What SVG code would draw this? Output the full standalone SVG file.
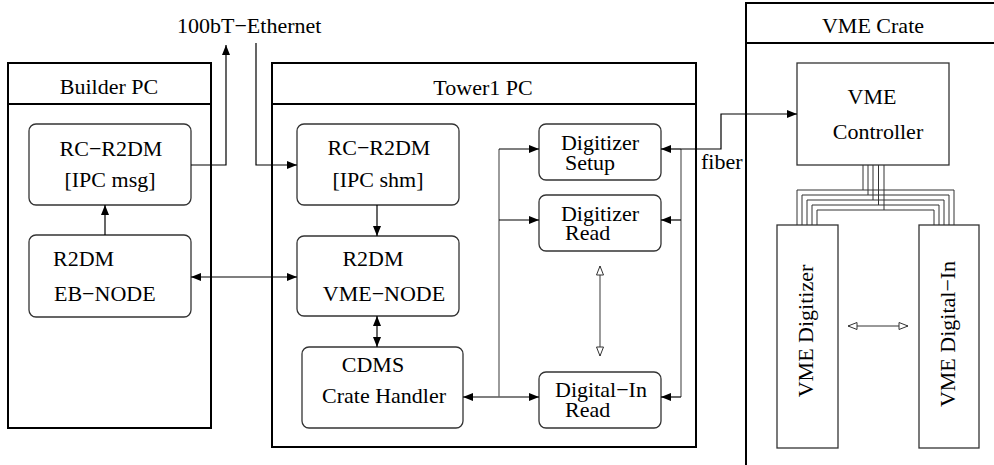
<svg xmlns="http://www.w3.org/2000/svg" width="994" height="465" viewBox="0 0 994 465">
  <style>
    text { font-family: "Liberation Serif", "Times New Roman", serif; font-size: 22px; fill: #000; }
    .mid { text-anchor: middle; }
    .frame { fill: none; stroke: #000; stroke-width: 2; }
    .task { fill: #fff; stroke: #333; stroke-width: 1.3; }
    .card { fill: #fff; stroke: #333; stroke-width: 1.3; }
    .wire { fill: none; stroke: #000; stroke-width: 1.2; }
    .bus { fill: none; stroke: #666; stroke-width: 1.3; }
    .vme { fill: none; stroke: #333; stroke-width: 1; }
  </style>
  <defs>
    <marker id="arr" markerUnits="userSpaceOnUse" markerWidth="10" markerHeight="8" refX="10" refY="4" orient="auto-start-reverse">
      <path d="M0,0 L10,4 L0,8 Z" fill="#000"/>
    </marker>
    <marker id="open" markerUnits="userSpaceOnUse" markerWidth="11" markerHeight="9" refX="10" refY="4.5" orient="auto-start-reverse">
      <path d="M1,1 L10,4.5 L1,8 Z" fill="#fff" stroke="#333" stroke-width="1"/>
    </marker>
  </defs>

  <!-- Builder PC -->
  <g id="builder-pc">
    <rect class="frame" x="8" y="63" width="203" height="365"/>
    <line class="frame" x1="8" y1="104" x2="211" y2="104"/>
    <text class="mid" x="109" y="94">Builder PC</text>
  </g>
  <g id="builder-rc">
    <rect class="task" x="29" y="124" width="162" height="81" rx="7"/>
    <text class="mid" x="111" y="156">RC−R2DM</text>
    <text class="mid" x="110" y="187">[IPC msg]</text>
  </g>
  <g id="builder-eb">
    <rect class="task" x="29" y="235" width="162" height="82" rx="7"/>
    <text x="53" y="266">R2DM</text>
    <text x="54" y="301">EB−NODE</text>
  </g>

  <!-- Tower1 PC -->
  <g id="tower-pc">
    <rect class="frame" x="272" y="63" width="424" height="384"/>
    <line class="frame" x1="272" y1="104" x2="696" y2="104"/>
    <text class="mid" x="483" y="95">Tower1 PC</text>
  </g>
  <g id="tower-rc">
    <rect class="task" x="297" y="124" width="162" height="81" rx="7"/>
    <text class="mid" x="379" y="155">RC−R2DM</text>
    <text class="mid" x="378" y="187">[IPC shm]</text>
  </g>
  <g id="tower-vme-node">
    <rect class="task" x="297" y="236" width="162" height="80" rx="7"/>
    <text class="mid" x="373" y="266">R2DM</text>
    <text class="mid" x="384" y="301">VME−NODE</text>
  </g>
  <g id="crate-handler">
    <rect class="task" x="302" y="347" width="161" height="81" rx="7"/>
    <text class="mid" x="373" y="372">CDMS</text>
    <text class="mid" x="384" y="403">Crate Handler</text>
  </g>
  <g id="digitizer-setup">
    <rect class="task" x="539" y="124" width="122" height="56" rx="7"/>
    <text class="mid" x="600" y="150">Digitizer</text>
    <text x="565" y="170">Setup</text>
  </g>
  <g id="digitizer-read">
    <rect class="task" x="539" y="195" width="122" height="56" rx="7"/>
    <text class="mid" x="600" y="221">Digitizer</text>
    <text x="565" y="240">Read</text>
  </g>
  <g id="digital-in-read">
    <rect class="task" x="539" y="372" width="122" height="56" rx="7"/>
    <text class="mid" x="601" y="397">Digital−In</text>
    <text x="565" y="417">Read</text>
  </g>

  <!-- VME Crate -->
  <g id="vme-crate">
    <path class="frame" d="M746,470 L746,3 L1000,3"/>
    <line class="frame" x1="746" y1="43" x2="1000" y2="43"/>
    <text class="mid" x="873" y="33">VME Crate</text>
  </g>
  <g id="vme-controller">
    <rect class="card" x="797" y="63" width="152" height="102"/>
    <text class="mid" x="872" y="104">VME</text>
    <text class="mid" x="878" y="139">Controller</text>
  </g>
  <g id="vme-digitizer">
    <rect class="card" x="777" y="225" width="61" height="223"/>
    <text class="mid" transform="translate(812.5,331) rotate(-90)">VME Digitizer</text>
  </g>
  <g id="vme-digital-in">
    <rect class="card" x="919" y="225" width="60" height="223"/>
    <text class="mid" transform="translate(955,334) rotate(-90)">VME Digital−In</text>
  </g>

  <!-- Connectors -->
  <g id="connectors">
    <!-- Ethernet -->
    <text x="177" y="33">100bT−Ethernet</text>
    <polyline class="wire" points="191,165 226,165 226,45" marker-end="url(#arr)"/>
    <polyline class="wire" points="256,43 256,165 297,165" marker-end="url(#arr)"/>

    <!-- Builder PC internal -->
    <line class="wire" x1="105" y1="235" x2="105" y2="205" marker-end="url(#arr)"/>
    <line class="wire" x1="191" y1="277" x2="297" y2="277" marker-start="url(#arr)" marker-end="url(#arr)"/>

    <!-- Tower1 PC internal -->
    <line class="wire" x1="377" y1="205" x2="377" y2="236" marker-end="url(#arr)"/>
    <line class="wire" x1="377" y1="316" x2="377" y2="347" marker-start="url(#arr)" marker-end="url(#arr)"/>
    <line class="wire" x1="463" y1="397" x2="539" y2="397" marker-start="url(#arr)" marker-end="url(#arr)"/>

    <!-- left distribution bus -->
    <line class="bus" x1="499" y1="149" x2="499" y2="397"/>
    <line class="wire" x1="499" y1="149" x2="539" y2="149" marker-end="url(#arr)"/>
    <line class="wire" x1="499" y1="220" x2="539" y2="220" marker-end="url(#arr)"/>

    <!-- right distribution bus -->
    <line class="bus" x1="681" y1="149" x2="681" y2="397"/>
    <line class="wire" x1="681" y1="149" x2="661" y2="149" marker-end="url(#arr)"/>
    <line class="wire" x1="681" y1="220" x2="661" y2="220" marker-end="url(#arr)"/>
    <line class="wire" x1="681" y1="397" x2="661" y2="397" marker-end="url(#arr)"/>

    <!-- digitizer / digital-in link -->
    <line class="bus" x1="600" y1="266" x2="600" y2="356" marker-start="url(#open)" marker-end="url(#open)"/>

    <!-- fiber -->
    <polyline class="wire" points="681,149 721,149 721,114 797,114" marker-end="url(#arr)"/>
    <text x="701" y="169">fiber</text>

    <!-- VME backplane lines -->
    <polyline class="vme" points="863,165 863,190"/>
    <polyline class="vme" points="868,165 868,195"/>
    <polyline class="vme" points="873,165 873,200"/>
    <polyline class="vme" points="878.5,165 878.5,205"/>
    <polyline class="vme" points="884,165 884,210"/>
    <polyline class="vme" points="797,225 797,190 954,190 954,225"/>
    <polyline class="vme" points="802,225 802,195 949,195 949,225"/>
    <polyline class="vme" points="807,225 807,200 944,200 944,225"/>
    <polyline class="vme" points="812,225 812,205 939,205 939,225"/>
    <polyline class="vme" points="817,225 817,210 934,210 934,225"/>

    <!-- module to module -->
    <line class="vme" x1="848" y1="326" x2="908" y2="326" marker-start="url(#open)" marker-end="url(#open)"/>
  </g>
</svg>
